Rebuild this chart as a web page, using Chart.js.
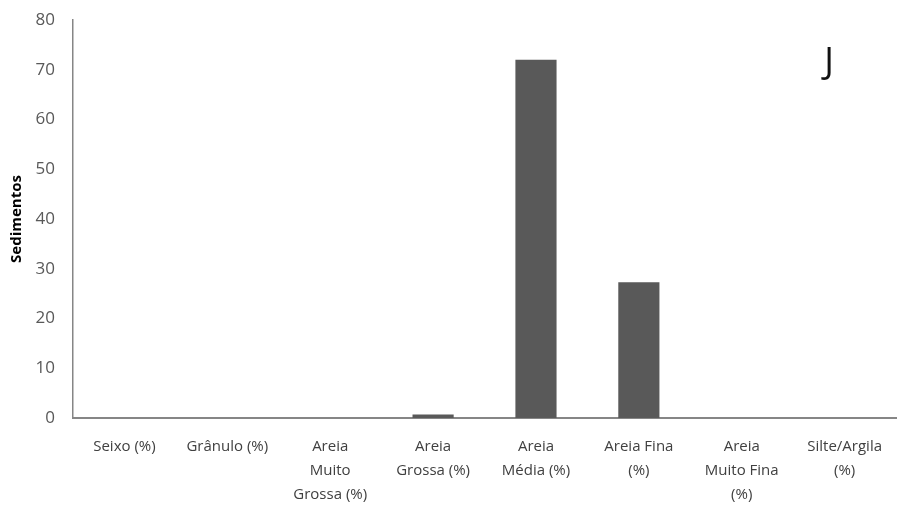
<!DOCTYPE html>
<html>
<head>
<meta charset="utf-8">
<script src="https://cdn.jsdelivr.net/npm/chart.js@4"></script>
<style>
  html, body { margin: 0; padding: 0; background: #fff; }
  #wrap { width: 899px; height: 511px; position: relative; }
</style>
</head>
<body>
<div id="wrap"><canvas id="grafico"></canvas></div>
<script>
// Dados do gráfico
const categorias = [
    'Seixo (%)',
    'Grânulo (%)',
    ['Areia', 'Muito', 'Grossa (%)'],
    ['Areia', 'Grossa (%)'],
    ['Areia', 'Média (%)'],
    ['Areia Fina', '(%)'],
    ['Areia', 'Muito Fina', '(%)'],
    ['Silte/Argila', '(%)']
];
const sedimentos = [0, 0, 0, 0.7, 72, 27.3, 0, 0];
const rotuloPainel = 'J';

// Plugin simples para a letra do painel
const letraPainel = {
    id: 'letraPainel',
    afterDraw(chart) {
        const ctx = chart.ctx;
        ctx.save();
        ctx.font = '36px "Open Sans", sans-serif';
        ctx.fillStyle = '#111';
        ctx.textAlign = 'center';
        ctx.textBaseline = 'alphabetic';
        ctx.fillText(rotuloPainel, 829, 73);
        ctx.restore();
    }
};

new Chart(document.getElementById('grafico'), {
    type: 'bar',
    data: {
        labels: categorias,
        datasets: [{
            label: 'Sedimentos',
            data: sedimentos,
            backgroundColor: '#595959',
            borderWidth: 0,
            categoryPercentage: 0.4,
            barPercentage: 1
        }]
    },
    options: {
        responsive: true,
        maintainAspectRatio: false,
        animation: false,
        plugins: {
            legend: { display: false },
            tooltip: { enabled: false }
        },
        layout: {
            padding: { top: 20, right: 0, left: 8, bottom: -13 }
        },
        scales: {
            x: {
                grid: { display: false, drawTicks: false },
                border: { color: '#868686', width: 2 },
                ticks: {
                    color: '#404040',
                    font: { family: '"Open Sans", sans-serif', size: 15, lineHeight: 1.6 },
                    maxRotation: 0,
                    autoSkip: false,
                    padding: 17
                }
            },
            y: {
                min: 0,
                max: 80,
                afterFit(scale) {
                    scale.width = 65;
                    scale.paddingTop = 0;
                },
                grid: { display: false, drawTicks: false },
                border: { color: '#868686', width: 1.5 },
                ticks: {
                    stepSize: 10,
                    color: '#595959',
                    font: { family: '"Open Sans", sans-serif', size: 17 },
                    padding: 18
                },
                title: {
                    display: true,
                    text: 'Sedimentos',
                    color: '#000',
                    font: { family: '"Open Sans", sans-serif', size: 15, weight: 'bold' },
                    padding: { top: 0, bottom: 0 }
                }
            }
        }
    },
    plugins: [letraPainel]
});
</script>
</body>
</html>
